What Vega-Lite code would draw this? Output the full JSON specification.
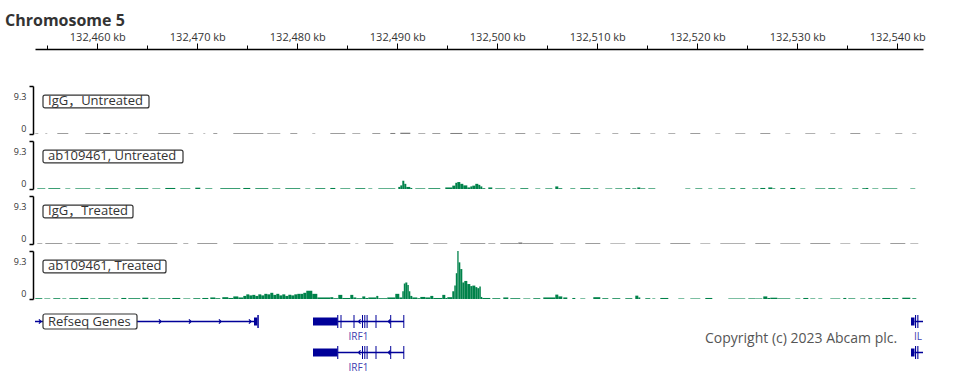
{
"$schema": "https://vega.github.io/schema/vega-lite/v6.json",
"background": "white",
"padding": {"left": 5, "top": 13, "right": 5, "bottom": 4},
"title": {"text": "Chromosome 5", "anchor": "start", "fontSize": 16, "fontWeight": "bold", "font": "Open Sans", "color": "#333333", "offset": 2},
"config": {"view": {"stroke": null}, "font": "Open Sans"},
"bounds": "flush",
"spacing": 7,
"resolve": {"scale": {"x": "independent", "y": "independent"}},
"datasets": {
"cov": [
{"t":"igu","s":132453.8,"e":132454.1,"v":0.12},{"t":"igu","s":132454.8,"e":132455.0,"v":0.1},{"t":"igu","s":132456.0,"e":132457.1,"v":0.15},{"t":"igu","s":132458.8,"e":132460.3,"v":0.15},{"t":"igu","s":132460.6,"e":132461.3,"v":0.2},{"t":"igu","s":132461.8,"e":132462.3,"v":0.12},{"t":"igu","s":132462.8,"e":132463.0,"v":0.15},{"t":"igu","s":132463.6,"e":132464.0,"v":0.1},{"t":"igu","s":132466.1,"e":132468.3,"v":0.15},{"t":"igu","s":132469.1,"e":132469.6,"v":0.12},{"t":"igu","s":132470.6,"e":132470.8,"v":0.1},{"t":"igu","s":132471.6,"e":132472.0,"v":0.15},{"t":"igu","s":132473.6,"e":132476.6,"v":0.15},{"t":"igu","s":132477.0,"e":132478.3,"v":0.12},{"t":"igu","s":132479.3,"e":132480.0,"v":0.15},{"t":"igu","s":132481.5,"e":132481.8,"v":0.1},{"t":"igu","s":132483.3,"e":132484.8,"v":0.15},{"t":"igu","s":132485.5,"e":132486.3,"v":0.12},{"t":"igu","s":132487.5,"e":132488.3,"v":0.15},{"t":"igu","s":132489.3,"e":132489.8,"v":0.2},{"t":"igu","s":132490.3,"e":132491.3,"v":0.25},{"t":"igu","s":132492.1,"e":132492.8,"v":0.12},{"t":"igu","s":132493.5,"e":132494.3,"v":0.15},{"t":"igu","s":132495.3,"e":132496.5,"v":0.2},{"t":"igu","s":132497.1,"e":132498.1,"v":0.15},{"t":"igu","s":132498.8,"e":132499.3,"v":0.1},{"t":"igu","s":132500.1,"e":132500.8,"v":0.12},{"t":"igu","s":132501.8,"e":132502.8,"v":0.15},{"t":"igu","s":132503.8,"e":132504.3,"v":0.1},{"t":"igu","s":132505.5,"e":132506.3,"v":0.12},{"t":"igu","s":132507.3,"e":132508.3,"v":0.15},{"t":"igu","s":132509.8,"e":132510.3,"v":0.1},{"t":"igu","s":132511.5,"e":132512.1,"v":0.12},{"t":"igu","s":132513.3,"e":132514.3,"v":0.15},{"t":"igu","s":132515.3,"e":132515.8,"v":0.1},{"t":"igu","s":132517.1,"e":132517.8,"v":0.12},{"t":"igu","s":132519.3,"e":132520.3,"v":0.15},{"t":"igu","s":132521.8,"e":132522.3,"v":0.1},{"t":"igu","s":132523.8,"e":132524.8,"v":0.12},{"t":"igu","s":132526.3,"e":132527.3,"v":0.15},{"t":"igu","s":132528.8,"e":132529.3,"v":0.1},{"t":"igu","s":132530.8,"e":132531.8,"v":0.12},{"t":"igu","s":132533.3,"e":132533.8,"v":0.1},{"t":"igu","s":132535.3,"e":132536.3,"v":0.15},{"t":"igu","s":132537.8,"e":132538.3,"v":0.1},{"t":"igu","s":132539.8,"e":132540.5,"v":0.12},{"t":"igu","s":132541.5,"e":132541.9,"v":0.1},
{"t":"abu","s":132454.0,"e":132454.8,"v":0.12},{"t":"abu","s":132455.1,"e":132456.3,"v":0.15},{"t":"abu","s":132456.8,"e":132457.3,"v":0.1},{"t":"abu","s":132457.8,"e":132459.3,"v":0.12},{"t":"abu","s":132459.8,"e":132460.3,"v":0.1},{"t":"abu","s":132460.8,"e":132462.1,"v":0.15},{"t":"abu","s":132462.5,"e":132463.3,"v":0.12},{"t":"abu","s":132463.8,"e":132465.1,"v":0.15},{"t":"abu","s":132465.5,"e":132466.3,"v":0.1},{"t":"abu","s":132466.8,"e":132467.8,"v":0.2},{"t":"abu","s":132468.3,"e":132469.3,"v":0.12},{"t":"abu","s":132469.8,"e":132470.3,"v":0.25},{"t":"abu","s":132470.8,"e":132471.5,"v":0.12},{"t":"abu","s":132472.3,"e":132474.3,"v":0.15},{"t":"abu","s":132474.6,"e":132475.3,"v":0.2},{"t":"abu","s":132475.8,"e":132477.1,"v":0.15},{"t":"abu","s":132477.5,"e":132478.3,"v":0.12},{"t":"abu","s":132478.8,"e":132480.3,"v":0.15},{"t":"abu","s":132480.8,"e":132481.3,"v":0.1},{"t":"abu","s":132481.8,"e":132482.8,"v":0.15},{"t":"abu","s":132483.3,"e":132483.8,"v":0.2},{"t":"abu","s":132484.3,"e":132485.3,"v":0.12},{"t":"abu","s":132485.8,"e":132486.8,"v":0.15},{"t":"abu","s":132487.1,"e":132487.5,"v":0.1},{"t":"abu","s":132488.1,"e":132489.8,"v":0.12},
{"t":"abu","s":132490.1,"e":132490.3,"v":0.4},{"t":"abu","s":132490.3,"e":132490.5,"v":0.7},{"t":"abu","s":132490.5,"e":132490.7,"v":1.6},{"t":"abu","s":132490.7,"e":132490.9,"v":1.0},{"t":"abu","s":132490.9,"e":132491.3,"v":0.4},{"t":"abu","s":132491.3,"e":132491.5,"v":0.2},{"t":"abu","s":132491.8,"e":132492.8,"v":0.12},{"t":"abu","s":132493.1,"e":132494.3,"v":0.15},{"t":"abu","s":132494.8,"e":132495.5,"v":0.3},{"t":"abu","s":132495.5,"e":132495.8,"v":0.65},{"t":"abu","s":132495.8,"e":132496.0,"v":1.2},{"t":"abu","s":132496.0,"e":132496.3,"v":1.35},{"t":"abu","s":132496.3,"e":132496.6,"v":1.0},{"t":"abu","s":132496.6,"e":132497.0,"v":0.7},{"t":"abu","s":132497.0,"e":132497.3,"v":0.3},{"t":"abu","s":132497.3,"e":132497.5,"v":0.5},{"t":"abu","s":132497.5,"e":132497.8,"v":0.65},{"t":"abu","s":132497.8,"e":132498.1,"v":1.0},{"t":"abu","s":132498.1,"e":132498.3,"v":0.8},{"t":"abu","s":132498.3,"e":132498.5,"v":0.5},{"t":"abu","s":132498.5,"e":132498.8,"v":0.15},{"t":"abu","s":132499.1,"e":132499.5,"v":0.3},{"t":"abu","s":132499.8,"e":132500.8,"v":0.12},{"t":"abu","s":132501.3,"e":132501.8,"v":0.1},{"t":"abu","s":132502.3,"e":132503.1,"v":0.15},{"t":"abu","s":132503.8,"e":132504.3,"v":0.1},{"t":"abu","s":132504.8,"e":132505.5,"v":0.12},{"t":"abu","s":132505.8,"e":132506.1,"v":0.5},{"t":"abu","s":132506.1,"e":132506.5,"v":0.15},{"t":"abu","s":132507.3,"e":132507.8,"v":0.12},{"t":"abu","s":132508.3,"e":132509.3,"v":0.15},{"t":"abu","s":132509.6,"e":132510.1,"v":0.12},{"t":"abu","s":132510.8,"e":132511.5,"v":0.1},{"t":"abu","s":132511.8,"e":132512.5,"v":0.12},{"t":"abu","s":132512.8,"e":132513.3,"v":0.15},{"t":"abu","s":132513.5,"e":132513.9,"v":0.12},{"t":"abu","s":132514.0,"e":132514.3,"v":0.3},{"t":"abu","s":132514.3,"e":132514.8,"v":0.12},{"t":"abu","s":132515.1,"e":132515.8,"v":0.12},{"t":"abu","s":132518.8,"e":132519.3,"v":0.1},{"t":"abu","s":132519.8,"e":132520.5,"v":0.12},{"t":"abu","s":132521.1,"e":132521.5,"v":0.1},{"t":"abu","s":132522.1,"e":132522.8,"v":0.12},{"t":"abu","s":132523.3,"e":132523.8,"v":0.15},{"t":"abu","s":132524.3,"e":132524.8,"v":0.15},{"t":"abu","s":132525.5,"e":132526.1,"v":0.12},{"t":"abu","s":132526.3,"e":132526.8,"v":0.2},{"t":"abu","s":132527.1,"e":132527.5,"v":0.3},{"t":"abu","s":132527.5,"e":132527.8,"v":0.12},{"t":"abu","s":132528.3,"e":132528.8,"v":0.15},{"t":"abu","s":132529.3,"e":132529.8,"v":0.2},{"t":"abu","s":132530.3,"e":132530.8,"v":0.1},{"t":"abu","s":132531.8,"e":132532.8,"v":0.12},{"t":"abu","s":132533.1,"e":132533.8,"v":0.15},{"t":"abu","s":132534.1,"e":132534.5,"v":0.1},{"t":"abu","s":132535.5,"e":132536.1,"v":0.12},{"t":"abu","s":132536.5,"e":132536.8,"v":0.15},{"t":"abu","s":132536.8,"e":132537.1,"v":0.2},{"t":"abu","s":132537.5,"e":132538.1,"v":0.1},{"t":"abu","s":132538.5,"e":132540.0,"v":0.12},{"t":"abu","s":132541.3,"e":132541.8,"v":0.1},
{"t":"igt","s":132454.0,"e":132454.5,"v":0.12},{"t":"igt","s":132454.8,"e":132456.5,"v":0.15},{"t":"igt","s":132457.0,"e":132457.5,"v":0.1},{"t":"igt","s":132457.8,"e":132460.3,"v":0.15},{"t":"igt","s":132461.1,"e":132462.3,"v":0.12},{"t":"igt","s":132462.8,"e":132463.1,"v":0.1},{"t":"igt","s":132464.0,"e":132468.0,"v":0.15},{"t":"igt","s":132468.6,"e":132469.1,"v":0.12},{"t":"igt","s":132470.0,"e":132472.0,"v":0.15},{"t":"igt","s":132473.6,"e":132477.6,"v":0.15},{"t":"igt","s":132478.1,"e":132479.0,"v":0.12},{"t":"igt","s":132479.5,"e":132480.0,"v":0.1},{"t":"igt","s":132480.6,"e":132482.8,"v":0.15},{"t":"igt","s":132483.1,"e":132485.3,"v":0.15},{"t":"igt","s":132485.8,"e":132486.1,"v":0.1},{"t":"igt","s":132486.8,"e":132489.6,"v":0.15},{"t":"igt","s":132491.3,"e":132493.1,"v":0.15},{"t":"igt","s":132493.6,"e":132495.0,"v":0.12},{"t":"igt","s":132496.3,"e":132498.8,"v":0.15},{"t":"igt","s":132499.1,"e":132499.8,"v":0.12},{"t":"igt","s":132500.3,"e":132502.1,"v":0.15},{"t":"igt","s":132502.1,"e":132502.5,"v":0.3},{"t":"igt","s":132502.5,"e":132505.6,"v":0.15},{"t":"igt","s":132506.3,"e":132507.8,"v":0.12},{"t":"igt","s":132508.8,"e":132510.3,"v":0.15},{"t":"igt","s":132511.3,"e":132512.8,"v":0.1},{"t":"igt","s":132513.8,"e":132516.3,"v":0.12},{"t":"igt","s":132517.3,"e":132519.3,"v":0.15},{"t":"igt","s":132520.3,"e":132521.3,"v":0.1},{"t":"igt","s":132522.3,"e":132524.8,"v":0.12},{"t":"igt","s":132525.8,"e":132527.3,"v":0.15},{"t":"igt","s":132528.3,"e":132530.3,"v":0.12},{"t":"igt","s":132531.3,"e":132533.3,"v":0.15},{"t":"igt","s":132534.3,"e":132535.3,"v":0.1},{"t":"igt","s":132536.3,"e":132538.3,"v":0.12},{"t":"igt","s":132539.3,"e":132540.8,"v":0.15},{"t":"igt","s":132541.3,"e":132542.1,"v":0.1},
{"t":"abt","s":132453.8,"e":132454.5,"v":0.15},{"t":"abt","s":132454.7,"e":132455.3,"v":0.1},{"t":"abt","s":132455.6,"e":132456.3,"v":0.15},{"t":"abt","s":132456.5,"e":132456.9,"v":0.1},{"t":"abt","s":132457.2,"e":132458.1,"v":0.15},{"t":"abt","s":132458.3,"e":132459.1,"v":0.2},{"t":"abt","s":132459.3,"e":132459.8,"v":0.1},{"t":"abt","s":132460.1,"e":132461.3,"v":0.15},{"t":"abt","s":132461.6,"e":132462.1,"v":0.1},{"t":"abt","s":132462.4,"e":132462.9,"v":0.2},{"t":"abt","s":132463.1,"e":132464.3,"v":0.15},{"t":"abt","s":132464.5,"e":132465.1,"v":0.25},{"t":"abt","s":132465.3,"e":132465.8,"v":0.1},{"t":"abt","s":132466.1,"e":132467.3,"v":0.15},{"t":"abt","s":132467.5,"e":132468.3,"v":0.2},{"t":"abt","s":132468.6,"e":132469.3,"v":0.1},{"t":"abt","s":132469.6,"e":132470.3,"v":0.15},{"t":"abt","s":132470.5,"e":132471.1,"v":0.2},{"t":"abt","s":132471.3,"e":132471.8,"v":0.3},{"t":"abt","s":132471.8,"e":132472.3,"v":0.15},{"t":"abt","s":132472.5,"e":132473.1,"v":0.35},{"t":"abt","s":132473.1,"e":132473.6,"v":0.2},{"t":"abt","s":132473.6,"e":132474.1,"v":0.5},{"t":"abt","s":132474.1,"e":132474.6,"v":0.3},
{"t":"abt","s":132474.6,"e":132474.9,"v":0.6},{"t":"abt","s":132474.9,"e":132475.2,"v":0.9},{"t":"abt","s":132475.2,"e":132475.5,"v":0.7},{"t":"abt","s":132475.5,"e":132475.8,"v":0.8},{"t":"abt","s":132475.8,"e":132476.1,"v":0.6},{"t":"abt","s":132476.1,"e":132476.4,"v":0.9},{"t":"abt","s":132476.4,"e":132476.7,"v":0.7},{"t":"abt","s":132476.7,"e":132477.0,"v":1.0},{"t":"abt","s":132477.0,"e":132477.3,"v":0.9},{"t":"abt","s":132477.3,"e":132477.6,"v":1.2},{"t":"abt","s":132477.6,"e":132477.9,"v":0.8},{"t":"abt","s":132477.9,"e":132478.2,"v":1.0},{"t":"abt","s":132478.2,"e":132478.5,"v":0.7},{"t":"abt","s":132478.5,"e":132478.8,"v":0.9},{"t":"abt","s":132478.8,"e":132479.1,"v":0.6},{"t":"abt","s":132479.1,"e":132479.4,"v":0.8},{"t":"abt","s":132479.4,"e":132479.7,"v":0.7},{"t":"abt","s":132479.7,"e":132480.0,"v":0.9},{"t":"abt","s":132480.0,"e":132480.3,"v":1.0},{"t":"abt","s":132480.3,"e":132480.6,"v":1.0},{"t":"abt","s":132480.6,"e":132480.9,"v":1.2},{"t":"abt","s":132480.9,"e":132481.5,"v":1.6},{"t":"abt","s":132481.5,"e":132482.0,"v":1.0},
{"t":"abt","s":132482.0,"e":132483.3,"v":0.3},{"t":"abt","s":132483.3,"e":132483.6,"v":0.35},{"t":"abt","s":132483.6,"e":132484.1,"v":0.15},{"t":"abt","s":132484.1,"e":132484.5,"v":0.8},{"t":"abt","s":132484.5,"e":132485.3,"v":0.2},{"t":"abt","s":132485.3,"e":132485.6,"v":0.8},{"t":"abt","s":132485.6,"e":132485.9,"v":0.3},{"t":"abt","s":132485.9,"e":132486.5,"v":0.15},{"t":"abt","s":132486.5,"e":132486.8,"v":0.5},{"t":"abt","s":132486.8,"e":132487.1,"v":0.2},{"t":"abt","s":132487.1,"e":132487.9,"v":0.3},{"t":"abt","s":132487.9,"e":132488.1,"v":0.6},{"t":"abt","s":132488.1,"e":132489.0,"v":0.15},{"t":"abt","s":132489.0,"e":132489.8,"v":0.3},{"t":"abt","s":132489.8,"e":132490.2,"v":1.0},{"t":"abt","s":132490.2,"e":132490.5,"v":0.3},{"t":"abt","s":132490.5,"e":132490.65,"v":1.5},{"t":"abt","s":132490.65,"e":132490.8,"v":3.0},{"t":"abt","s":132490.8,"e":132491.0,"v":3.2},{"t":"abt","s":132491.0,"e":132491.15,"v":2.7},{"t":"abt","s":132491.15,"e":132491.3,"v":1.5},{"t":"abt","s":132491.3,"e":132491.5,"v":0.6},{"t":"abt","s":132491.5,"e":132492.0,"v":0.3},{"t":"abt","s":132492.0,"e":132492.3,"v":0.15},{"t":"abt","s":132492.3,"e":132492.8,"v":0.4},{"t":"abt","s":132492.8,"e":132493.3,"v":0.3},{"t":"abt","s":132493.3,"e":132493.6,"v":0.6},{"t":"abt","s":132493.6,"e":132494.5,"v":0.2},{"t":"abt","s":132494.5,"e":132494.8,"v":0.8},{"t":"abt","s":132494.8,"e":132495.0,"v":0.2},{"t":"abt","s":132495.0,"e":132495.5,"v":0.35},{"t":"abt","s":132495.5,"e":132495.7,"v":1.5},{"t":"abt","s":132495.7,"e":132495.85,"v":2.6},{"t":"abt","s":132495.85,"e":132496.0,"v":5.0},{"t":"abt","s":132496.0,"e":132496.13,"v":9.3},{"t":"abt","s":132496.13,"e":132496.3,"v":7.1},{"t":"abt","s":132496.3,"e":132496.5,"v":5.8},{"t":"abt","s":132496.5,"e":132496.7,"v":3.2},{"t":"abt","s":132496.7,"e":132497.0,"v":3.5},{"t":"abt","s":132497.0,"e":132497.3,"v":2.9},{"t":"abt","s":132497.3,"e":132497.5,"v":2.5},{"t":"abt","s":132497.5,"e":132497.8,"v":2.6},{"t":"abt","s":132497.8,"e":132498.0,"v":2.3},{"t":"abt","s":132498.0,"e":132498.2,"v":2.1},{"t":"abt","s":132498.2,"e":132498.35,"v":2.4},{"t":"abt","s":132498.35,"e":132498.5,"v":0.4},{"t":"abt","s":132498.5,"e":132499.3,"v":0.2},
{"t":"abt","s":132499.5,"e":132500.3,"v":0.15},{"t":"abt","s":132500.6,"e":132501.1,"v":0.3},{"t":"abt","s":132501.3,"e":132502.3,"v":0.15},{"t":"abt","s":132502.6,"e":132503.3,"v":0.1},{"t":"abt","s":132503.6,"e":132504.3,"v":0.15},{"t":"abt","s":132504.6,"e":132505.8,"v":0.3},{"t":"abt","s":132505.8,"e":132506.1,"v":0.85},{"t":"abt","s":132506.1,"e":132506.5,"v":0.5},{"t":"abt","s":132506.6,"e":132507.0,"v":0.3},{"t":"abt","s":132507.5,"e":132507.8,"v":0.2},{"t":"abt","s":132508.3,"e":132508.8,"v":0.1},{"t":"abt","s":132509.6,"e":132510.3,"v":0.35},{"t":"abt","s":132510.5,"e":132511.1,"v":0.15},{"t":"abt","s":132511.5,"e":132512.3,"v":0.15},{"t":"abt","s":132512.8,"e":132513.5,"v":0.15},{"t":"abt","s":132513.8,"e":132514.1,"v":0.65},{"t":"abt","s":132514.1,"e":132514.3,"v":0.3},{"t":"abt","s":132514.8,"e":132515.3,"v":0.15},{"t":"abt","s":132515.5,"e":132515.8,"v":0.1},{"t":"abt","s":132516.3,"e":132517.1,"v":0.2},{"t":"abt","s":132518.1,"e":132518.7,"v":0.1},{"t":"abt","s":132519.3,"e":132520.3,"v":0.1},{"t":"abt","s":132520.8,"e":132521.5,"v":0.2},{"t":"abt","s":132523.1,"e":132524.8,"v":0.1},{"t":"abt","s":132525.1,"e":132525.8,"v":0.12},{"t":"abt","s":132525.8,"e":132526.5,"v":0.1},{"t":"abt","s":132526.6,"e":132527.0,"v":0.5},{"t":"abt","s":132527.0,"e":132527.3,"v":0.2},{"t":"abt","s":132527.3,"e":132528.0,"v":0.25},{"t":"abt","s":132528.0,"e":132529.3,"v":0.12},{"t":"abt","s":132529.8,"e":132530.3,"v":0.1},{"t":"abt","s":132530.6,"e":132531.1,"v":0.2},{"t":"abt","s":132531.3,"e":132531.8,"v":0.1},{"t":"abt","s":132532.1,"e":132532.5,"v":0.1},{"t":"abt","s":132533.3,"e":132534.3,"v":0.1},{"t":"abt","s":132534.6,"e":132534.9,"v":0.2},{"t":"abt","s":132535.1,"e":132535.8,"v":0.12},{"t":"abt","s":132536.3,"e":132536.8,"v":0.1},{"t":"abt","s":132537.1,"e":132537.5,"v":0.15},{"t":"abt","s":132537.8,"e":132538.3,"v":0.1},{"t":"abt","s":132538.5,"e":132539.3,"v":0.2},{"t":"abt","s":132539.5,"e":132540.1,"v":0.15},{"t":"abt","s":132540.5,"e":132541.3,"v":0.25},{"t":"abt","s":132541.5,"e":132541.9,"v":0.15}
],
"genes": [
{"row":"1","k":"intron","s":132453.77,"e":132475.67},
{"row":"1","k":"utr","s":132475.67,"e":132476.0},
{"row":"1","k":"exon","s":132476.0,"e":132476.15},
{"row":"1","k":"arrowR","s":132454.27},{"row":"1","k":"arrowR","s":132466.27},{"row":"1","k":"arrowR","s":132469.27},{"row":"1","k":"arrowR","s":132472.27},{"row":"1","k":"arrowR","s":132475.27},
{"row":"1","k":"utr","s":132481.57,"e":132484.02},
{"row":"1","k":"intron","s":132484.02,"e":132490.67},
{"row":"1","k":"exon","s":132483.99,"e":132484.1},{"row":"1","k":"exon","s":132484.32,"e":132484.42},{"row":"1","k":"exon","s":132485.62,"e":132485.72},{"row":"1","k":"exon","s":132486.47,"e":132486.57},{"row":"1","k":"exon","s":132486.7,"e":132486.8},{"row":"1","k":"exon","s":132486.93,"e":132487.03},{"row":"1","k":"exon","s":132487.82,"e":132487.92},{"row":"1","k":"exon","s":132489.29,"e":132489.39},{"row":"1","k":"exon","s":132490.6,"e":132490.7},
{"row":"1","k":"arrowL","s":132486.22},{"row":"1","k":"arrowL","s":132489.2},
{"row":"1","k":"label","s":132486.12,"name":"IRF1"},
{"row":"2","k":"utr","s":132481.57,"e":132484.02},
{"row":"2","k":"intron","s":132484.02,"e":132490.67},
{"row":"2","k":"exon","s":132483.99,"e":132484.1},{"row":"2","k":"exon","s":132486.47,"e":132486.57},{"row":"2","k":"exon","s":132486.7,"e":132486.8},{"row":"2","k":"exon","s":132486.93,"e":132487.03},{"row":"2","k":"exon","s":132487.82,"e":132487.92},{"row":"2","k":"exon","s":132489.29,"e":132489.39},{"row":"2","k":"exon","s":132490.6,"e":132490.7},
{"row":"2","k":"arrowL","s":132486.22},{"row":"2","k":"arrowL","s":132489.2},
{"row":"2","k":"label","s":132486.12,"name":"IRF1"},
{"row":"1","k":"utr","s":132541.37,"e":132541.72},
{"row":"1","k":"intron","s":132541.72,"e":132542.57},
{"row":"1","k":"exon","s":132541.77,"e":132541.88},{"row":"1","k":"exon","s":132542.0,"e":132542.11},
{"row":"1","k":"label","s":132542.07,"name":"IL"},
{"row":"2","k":"utr","s":132541.37,"e":132541.72},
{"row":"2","k":"intron","s":132541.72,"e":132542.57},
{"row":"2","k":"exon","s":132541.77,"e":132541.88},{"row":"2","k":"exon","s":132542.0,"e":132542.11}
]
},
"vconcat": [
{
"width": 888, "height": 48,
"layer": [
{"data": {"name": "cov"}, "transform": [{"filter": "datum.t == 'igu'"}],
 "mark": {"type": "rect", "color": "#808080", "clip": true},
 "encoding": {
  "x": {"field": "s", "type": "quantitative", "scale": {"domain": [132453.77, 132542.57], "nice": false, "zero": false},
   "axis": {"orient": "top", "offset": 37, "values": [132455,132460,132465,132470,132475,132480,132485,132490,132495,132500,132505,132510,132515,132520,132525,132530,132535,132540],
    "labelExpr": "datum.value % 10 === 0 ? format(datum.value, ',') + ' kb' : ''",
    "tickSize": {"condition": {"test": "datum.value % 10 === 0", "value": 6}, "value": 4},
    "grid": false, "title": null, "domainColor": "#000000", "domainWidth": 1.5, "tickColor": "#000000", "tickWidth": 1,
    "labelFontSize": 11, "labelColor": "#333333", "labelFont": "Open Sans", "labelPadding": 1, "labelOverlap": false, "labelFlush": false, "labelBound": false}},
  "x2": {"field": "e"},
  "y": {"field": "v", "type": "quantitative", "scale": {"domain": [0, 9.3], "nice": false},
   "axis": {"orient": "left", "values": [0, 9.3], "labelExpr": "datum.value == 0 ? '0' : '9.3'", "grid": false, "title": null, "domainColor": "#000000", "domainWidth": 1.5, "tickColor": "#000000", "tickWidth": 1.5, "tickSize": 4, "labelFontSize": 9, "labelColor": "#333333", "labelFont": "Open Sans", "labelPadding": 3, "labelBaseline": "middle", "labelOffset": {"condition": {"test": "datum.value == 0", "value": -6}, "value": 10}, "offset": 2, "minExtent": 28, "maxExtent": 28}},
  "y2": {"datum": 0}
 }},
{"data": {"values": [{}]}, "mark": {"type": "rect", "fill": "white", "stroke": "#333333", "strokeWidth": 1.2, "cornerRadius": 2},
 "encoding": {"x": {"datum": 132454.57, "type": "quantitative"}, "x2": {"datum": 132465.17}, "y": {"datum": 7.55, "type": "quantitative"}, "y2": {"datum": 5.05}}},
{"data": {"values": [{}]}, "mark": {"type": "text", "text": "IgG，Untreated", "align": "left", "baseline": "middle", "fontSize": 13, "font": "Open Sans, Noto Sans CJK SC", "color": "#333333"},
 "encoding": {"x": {"datum": 132455.07, "type": "quantitative"}, "y": {"datum": 6.3, "type": "quantitative"}}}
]
},
{
"width": 888, "height": 48,
"layer": [
{"data": {"name": "cov"}, "transform": [{"filter": "datum.t == 'abu'"}],
 "mark": {"type": "rect", "color": "#00824a", "clip": true},
 "encoding": {
  "x": {"field": "s", "type": "quantitative", "scale": {"domain": [132453.77, 132542.57], "nice": false, "zero": false}, "axis": null},
  "x2": {"field": "e"},
  "y": {"field": "v", "type": "quantitative", "scale": {"domain": [0, 9.3], "nice": false},
   "axis": {"orient": "left", "values": [0, 9.3], "labelExpr": "datum.value == 0 ? '0' : '9.3'", "grid": false, "title": null, "domainColor": "#000000", "domainWidth": 1.5, "tickColor": "#000000", "tickWidth": 1.5, "tickSize": 4, "labelFontSize": 9, "labelColor": "#333333", "labelFont": "Open Sans", "labelPadding": 3, "labelBaseline": "middle", "labelOffset": {"condition": {"test": "datum.value == 0", "value": -6}, "value": 10}, "offset": 2, "minExtent": 28, "maxExtent": 28}},
  "y2": {"datum": 0}
 }},
{"data": {"values": [{}]}, "mark": {"type": "rect", "fill": "white", "stroke": "#333333", "strokeWidth": 1.2, "cornerRadius": 2},
 "encoding": {"x": {"datum": 132454.57, "type": "quantitative"}, "x2": {"datum": 132468.57}, "y": {"datum": 7.55, "type": "quantitative"}, "y2": {"datum": 5.05}}},
{"data": {"values": [{}]}, "mark": {"type": "text", "text": "ab109461, Untreated", "align": "left", "baseline": "middle", "fontSize": 13, "font": "Open Sans", "color": "#333333"},
 "encoding": {"x": {"datum": 132455.07, "type": "quantitative"}, "y": {"datum": 6.3, "type": "quantitative"}}}
]
},
{
"width": 888, "height": 48,
"layer": [
{"data": {"name": "cov"}, "transform": [{"filter": "datum.t == 'igt'"}],
 "mark": {"type": "rect", "color": "#808080", "clip": true},
 "encoding": {
  "x": {"field": "s", "type": "quantitative", "scale": {"domain": [132453.77, 132542.57], "nice": false, "zero": false}, "axis": null},
  "x2": {"field": "e"},
  "y": {"field": "v", "type": "quantitative", "scale": {"domain": [0, 9.3], "nice": false},
   "axis": {"orient": "left", "values": [0, 9.3], "labelExpr": "datum.value == 0 ? '0' : '9.3'", "grid": false, "title": null, "domainColor": "#000000", "domainWidth": 1.5, "tickColor": "#000000", "tickWidth": 1.5, "tickSize": 4, "labelFontSize": 9, "labelColor": "#333333", "labelFont": "Open Sans", "labelPadding": 3, "labelBaseline": "middle", "labelOffset": {"condition": {"test": "datum.value == 0", "value": -6}, "value": 10}, "offset": 2, "minExtent": 28, "maxExtent": 28}},
  "y2": {"datum": 0}
 }},
{"data": {"values": [{}]}, "mark": {"type": "rect", "fill": "white", "stroke": "#333333", "strokeWidth": 1.2, "cornerRadius": 2},
 "encoding": {"x": {"datum": 132454.57, "type": "quantitative"}, "x2": {"datum": 132463.57}, "y": {"datum": 7.55, "type": "quantitative"}, "y2": {"datum": 5.05}}},
{"data": {"values": [{}]}, "mark": {"type": "text", "text": "IgG，Treated", "align": "left", "baseline": "middle", "fontSize": 13, "font": "Open Sans, Noto Sans CJK SC", "color": "#333333"},
 "encoding": {"x": {"datum": 132455.07, "type": "quantitative"}, "y": {"datum": 6.3, "type": "quantitative"}}}
]
},
{
"width": 888, "height": 48,
"layer": [
{"data": {"name": "cov"}, "transform": [{"filter": "datum.t == 'abt'"}],
 "mark": {"type": "rect", "color": "#00824a", "clip": true},
 "encoding": {
  "x": {"field": "s", "type": "quantitative", "scale": {"domain": [132453.77, 132542.57], "nice": false, "zero": false}, "axis": null},
  "x2": {"field": "e"},
  "y": {"field": "v", "type": "quantitative", "scale": {"domain": [0, 9.3], "nice": false},
   "axis": {"orient": "left", "values": [0, 9.3], "labelExpr": "datum.value == 0 ? '0' : '9.3'", "grid": false, "title": null, "domainColor": "#000000", "domainWidth": 1.5, "tickColor": "#000000", "tickWidth": 1.5, "tickSize": 4, "labelFontSize": 9, "labelColor": "#333333", "labelFont": "Open Sans", "labelPadding": 3, "labelBaseline": "middle", "labelOffset": {"condition": {"test": "datum.value == 0", "value": -6}, "value": 10}, "offset": 2, "minExtent": 28, "maxExtent": 28}},
  "y2": {"datum": 0}
 }},
{"data": {"values": [{}]}, "mark": {"type": "rect", "fill": "white", "stroke": "#333333", "strokeWidth": 1.2, "cornerRadius": 2},
 "encoding": {"x": {"datum": 132454.57, "type": "quantitative"}, "x2": {"datum": 132466.87}, "y": {"datum": 7.55, "type": "quantitative"}, "y2": {"datum": 5.05}}},
{"data": {"values": [{}]}, "mark": {"type": "text", "text": "ab109461, Treated", "align": "left", "baseline": "middle", "fontSize": 13, "font": "Open Sans", "color": "#333333"},
 "encoding": {"x": {"datum": 132455.07, "type": "quantitative"}, "y": {"datum": 6.3, "type": "quantitative"}}}
]
},
{
"width": 888, "height": 62,
"layer": [
{"data": {"name": "genes"}, "transform": [{"filter": "datum.k == 'intron'"}],
 "mark": {"type": "rule", "color": "#000099", "strokeWidth": 1.5, "clip": true},
 "encoding": {
  "x": {"field": "s", "type": "quantitative", "scale": {"domain": [132453.77, 132542.57], "nice": false, "zero": false}, "axis": null},
  "x2": {"field": "e"},
  "y": {"field": "row", "type": "ordinal", "scale": {"type": "band", "domain": ["1", "2"], "paddingInner": 0, "paddingOuter": 0}, "axis": null}
 }},
{"data": {"name": "genes"}, "transform": [{"filter": "datum.k == 'utr'"}],
 "mark": {"type": "bar", "color": "#000099", "size": 8},
 "encoding": {"x": {"field": "s", "type": "quantitative", "axis": null}, "x2": {"field": "e"}, "y": {"field": "row", "type": "ordinal", "axis": null}}},
{"data": {"name": "genes"}, "transform": [{"filter": "datum.k == 'exon'"}],
 "mark": {"type": "bar", "color": "#000099", "size": 13},
 "encoding": {"x": {"field": "s", "type": "quantitative", "axis": null}, "x2": {"field": "e"}, "y": {"field": "row", "type": "ordinal", "axis": null}}},
{"data": {"name": "genes"}, "transform": [{"filter": "datum.k == 'arrowR'"}],
 "mark": {"type": "point", "shape": "M-0.5,-1L0.5,0L-0.5,1", "filled": false, "stroke": "#000099", "strokeWidth": 1.2, "size": 18, "opacity": 1},
 "encoding": {"x": {"field": "s", "type": "quantitative", "axis": null}, "y": {"field": "row", "type": "ordinal", "axis": null}}},
{"data": {"name": "genes"}, "transform": [{"filter": "datum.k == 'arrowL'"}],
 "mark": {"type": "point", "shape": "M0.5,-1L-0.5,0L0.5,1", "filled": false, "stroke": "#000099", "strokeWidth": 1.2, "size": 18, "opacity": 1},
 "encoding": {"x": {"field": "s", "type": "quantitative", "axis": null}, "y": {"field": "row", "type": "ordinal", "axis": null}}},
{"data": {"name": "genes"}, "transform": [{"filter": "datum.k == 'label'"}],
 "mark": {"type": "text", "align": "center", "baseline": "middle", "dy": 15.5, "fontSize": 10, "font": "Open Sans", "color": "#4040b0"},
 "encoding": {"x": {"field": "s", "type": "quantitative", "axis": null}, "y": {"field": "row", "type": "ordinal", "axis": null}, "text": {"field": "name"}}},
{"data": {"values": [{}]}, "mark": {"type": "bar", "size": 15, "fill": "white", "stroke": "#333333", "strokeWidth": 1.2, "cornerRadius": 2},
 "encoding": {"x": {"datum": 132454.57, "type": "quantitative", "axis": null}, "x2": {"datum": 132463.97}, "y": {"datum": "1", "type": "ordinal", "axis": null}}},
{"data": {"values": [{}]}, "mark": {"type": "text", "text": "Refseq Genes", "align": "left", "baseline": "middle", "fontSize": 13, "font": "Open Sans", "color": "#333333"},
 "encoding": {"x": {"datum": 132455.07, "type": "quantitative", "axis": null}, "y": {"datum": "1", "type": "ordinal", "axis": null}}},
{"data": {"values": [{}]}, "mark": {"type": "text", "text": "Copyright (c) 2023 Abcam plc.", "align": "left", "baseline": "middle", "dy": 17.5, "fontSize": 14, "font": "Open Sans", "color": "#555555"},
 "encoding": {"x": {"datum": 132520.77, "type": "quantitative", "axis": null}, "y": {"datum": "1", "type": "ordinal", "axis": null}}}
]
}
]
}
